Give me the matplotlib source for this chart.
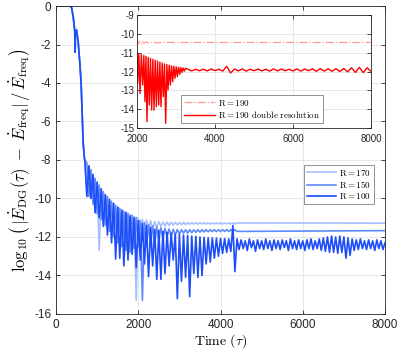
import numpy as np
import matplotlib
matplotlib.use("Agg")
import matplotlib.pyplot as plt

plt.rcParams['font.family'] = ['Liberation Sans', 'DejaVu Sans']
plt.rcParams['mathtext.fontset'] = 'cm'
plt.rcParams['axes.unicode_minus'] = False

# ---- main plot data (time, log10 rel. error) ----
t_start = [0, 340, 380, 420, 455, 462, 466, 470, 500, 540, 580, 610, 635, 660, 690]
v_start = [0, 0, -0.1, -0.6, -1.3, -2.4, -2.4, -1.3, -1.25, -1.9, -3.0, -4.0, -5.5, -7.1, -7.9]

t_band = [700, 750, 800, 850, 900, 950, 1000, 1050, 1100, 1150, 1200, 1250, 1300, 1350,
          1400, 1450, 1500, 1550, 1600, 1650, 1700, 1750, 1800, 1850, 1900, 1950, 2000,
          2050, 2100, 2150, 2200, 2250, 2300, 2350, 2400, 2450, 2500, 2550, 2600, 2650,
          2700, 2750, 2800, 2850, 2900, 2950, 3000, 3050, 3100, 3150, 3200, 3250, 3300,
          3350, 3400, 3450, 3500, 3550, 3600, 3650, 3700, 3750, 3800, 3850, 3900, 3950,
          4000, 4050, 4100, 4150, 4200, 4250, 4300, 4350, 4400]

# R=170: maxima at 700, 800, ... and minima at 750, 850, ...
peak170 = [-8.0, -8.3, -8.75, -9.15, -9.5, -9.8, -10.05, -10.25, -10.45, -10.6, -10.72,
           -10.82, -10.92, -11.0, -11.07, -11.12, -11.16, -11.2, -11.2, -11.22, -11.22,
           -11.23, -11.24, -11.24, -11.25, -11.25, -11.26, -11.26, -11.26, -11.27, -11.27,
           -11.27, -11.27, -11.27, -11.27, -11.27, -11.27, -11.27]
trough170 = [-9.6, -9.9, -10.3, -12.7, -10.9, -11.2, -11.4, -11.6, -11.75, -11.9,
             -12.0, -12.1, -15.3, -12.0, -11.85, -11.7, -11.6, -11.5, -11.45, -11.42,
             -11.4, -11.38, -11.37, -11.36, -11.35, -11.34, -11.33, -11.33, -11.32, -11.32,
             -11.32, -11.32, -11.32, -11.32, -11.32, -11.32, -11.32]

# R=150: minima at 800, 900, ... (first value at 700), maxima at 750, 850, ...
trough150 = [-8.0, -9.9, -10.3, -10.8, -11.1, -11.4, -11.7, -12.0, -12.3, -12.5,
             -12.7, -12.8, -12.6, -12.5, -15.3, -12.5, -12.4, -12.3, -12.2, -12.1,
             -12.0, -11.95, -11.9, -11.85, -11.8, -11.8, -11.78, -11.76, -11.75, -11.74,
             -11.73, -11.72, -11.72, -11.72, -11.71, -11.71, -11.71, -11.71]
peak150 = [-8.15, -8.5, -8.95, -9.3, -9.65, -9.9, -10.15, -10.35, -10.5, -10.65,
           -10.77, -10.87, -10.98, -11.15, -11.25, -11.35, -11.42, -11.48, -11.52, -11.55,
           -11.58, -11.6, -11.61, -11.62, -11.62, -11.62, -11.62, -11.62, -11.62, -11.62,
           -11.62, -11.62, -11.62, -11.62, -11.62, -11.62, -11.62]

# R=100: maxima at 700, 800, ... and minima at 750, 850, ...
peak100 = [-8.0, -8.3, -8.75, -9.15, -9.5, -9.8, -10.05, -10.25, -10.45, -10.6, -10.72,
           -10.9, -11.0, -11.15, -11.3, -11.4, -11.5, -11.6, -11.65, -11.7, -11.75,
           -11.8, -11.85, -11.88, -11.9, -11.92, -11.95, -11.97, -12.0, -12.02, -12.04,
           -12.05, -12.06, -12.08, -12.08, -12.1, -11.4, -12.1]
trough100 = [-9.9, -10.0, -10.75, -11.0, -11.45, -11.9, -12.3, -13.15, -13.1, -13.5,
             -13.2, -12.9, -13.6, -13.2, -13.4, -14.06, -13.5, -14.2, -14.2, -13.9,
             -13.5, -13.2, -15.2, -14.3, -14.1, -15.1, -13.9, -14.1, -14.0, -13.4,
             -13.3, -13.1, -13.0, -12.85, -12.8, -12.75, -13.8]

t_tail100 = [4450, 4500, 4550, 4600, 4650, 4700, 4750, 4800, 4850, 4900,
             4950, 5000, 5050, 5100, 5150, 5200, 5250, 5300, 5350, 5400,
             5450, 5500, 5550, 5600, 5650, 5700, 5750, 5800, 5850, 5900,
             5950, 6000, 6050, 6100, 6150, 6200, 6250, 6300, 6350, 6400,
             6450, 6500, 6550, 6600, 6650, 6700, 6750, 6800, 6850, 6900,
             6950, 7000, 7050, 7100, 7150, 7200, 7250, 7300, 7350, 7400,
             7450, 7500, 7550, 7600, 7650, 7700, 7750, 7800, 7850, 7900,
             7950, 8000]
v_tail100 = [-12.65, -12.15, -12.6, -12.2, -12.7, -12.1, -12.55, -12.2, -12.75, -12.15,
             -12.6, -12.2, -12.65, -12.1, -12.6, -12.2, -12.7, -12.15, -12.6, -12.2,
             -12.65, -12.15, -12.55, -12.2, -12.7, -12.1, -12.6, -12.2, -12.65, -12.15,
             -12.6, -12.2, -12.7, -12.15, -12.6, -12.1, -12.65, -12.2, -12.6, -12.1,
             -12.7, -12.05, -12.75, -12.0, -12.8, -11.95, -12.8, -12.0, -12.85, -11.95,
             -12.8, -12.0, -13.1, -12.05, -12.95, -12.1, -12.7, -12.15, -12.65, -12.1,
             -12.6, -12.2, -12.65, -12.15, -12.6, -12.2, -12.7, -12.15, -12.6, -12.2,
             -12.65, -12.3]
t_tail_flat = [8000]
v_tail170 = [-11.28]
v_tail150 = [-11.67]

# ---- inset data ----
t190 = [2000, 2030, 2060, 2100, 2140, 2180, 2230, 2300, 2400, 2500, 2700, 3000, 8000]
v190 = [-10.35, -10.55, -10.38, -10.52, -10.4, -10.5, -10.42, -10.5, -10.43, -10.48,
        -10.45, -10.46, -10.46]

t190d = [2000, 2017, 2047, 2077, 2111, 2145, 2175, 2205, 2230, 2256, 2286, 2316, 2346,
         2376, 2406, 2436, 2466, 2496, 2526, 2556, 2586, 2615, 2645, 2675, 2705, 2735,
         2765, 2795, 2825, 2855, 2885, 2915, 2945, 2974, 3004, 3034, 3064, 3094, 3124,
         3154, 3184, 3214, 3244,
         3300, 3400, 3500, 3600, 3700, 3800, 3900, 4000, 4100, 4200,
         4300, 4400, 4500, 4600, 4700, 4800, 4900, 5000, 5100, 5200,
         5300, 5400, 5500, 5600, 5700, 5800, 5900, 6000, 6100, 6200,
         6300, 6400, 6500, 6600, 6700, 6800, 6900, 7000, 7100, 7200,
         7300, 7400, 7500, 7600, 7700, 7800, 7900, 8000]
v190d = [-10.95, -12.63, -11.05, -13.16, -11.1, -12.72, -11.15, -13.6, -11.2, -14.67,
         -11.25, -13.78, -11.3, -14.05, -11.35, -14.05, -11.4, -13.87, -11.45, -13.78,
         -11.5, -13.87, -11.55, -13.34, -11.6, -14.75, -11.63, -12.98, -11.66, -12.72,
         -11.7, -12.54, -11.72, -12.36, -11.75, -12.27, -11.77, -12.15, -11.79, -12.05,
         -11.81, -11.98, -11.83,
         -11.87, -11.97, -11.88, -11.96, -11.88, -11.97, -11.87, -11.95, -11.88, -11.98,
         -11.72, -12.08, -11.87, -11.97, -11.86, -11.98, -11.88, -11.96, -11.87, -11.97,
         -11.88, -11.98, -11.86, -11.97, -11.87, -11.96, -11.88, -11.97, -11.86, -11.98,
         -11.87, -11.96, -11.86, -11.99, -11.85, -11.98, -11.86, -11.99, -11.85, -12.0,
         -11.84, -12.02, -11.8, -12.05, -11.78, -12.06, -11.8, -12.0]

c170 = '#a6bffd'
c150 = '#5f8afb'
c100 = '#1d4df8'


def zigzag(even, odd):
    # even -> t_band[0::2], odd -> t_band[1::2]
    v = np.empty(len(even) + len(odd))
    v[0::2] = even
    v[1::2] = odd
    return v


def series(band_vals, t_tail, v_tail):
    t = np.concatenate([t_start, t_band, t_tail])
    v = np.concatenate([v_start, band_vals, v_tail])
    return t, v


fig = plt.figure(figsize=(3.99, 3.53), dpi=100)
ax = fig.add_axes([0.1404, 0.1105, 0.8246, 0.8725])

t, v = series(zigzag(peak170, trough170), t_tail_flat, v_tail170)
ax.plot(t, v, color=c170, lw=1.2, label=r'$\mathrm{R{=}170}$')
t, v = series(zigzag(trough150, peak150), t_tail_flat, v_tail150)
ax.plot(t, v, color=c150, lw=1.2, label=r'$\mathrm{R{=}150}$')
t, v = series(zigzag(peak100, trough100), t_tail100, v_tail100)
ax.plot(t, v, color=c100, lw=1.2, label=r'$\mathrm{R{=}100}$')

ax.set_xlim(0, 8000)
ax.set_ylim(-16, 0)
ax.set_xticks([0, 2000, 4000, 6000, 8000])
ax.set_yticks(range(-16, 1, 2))
ax.grid(True, color='#e3e3e3', lw=0.6)
ax.set_axisbelow(True)
ax.tick_params(direction='in', top=True, right=True, length=3, width=0.6,
               labelsize=8.5, colors='#262626')
for s in ax.spines.values():
    s.set_color('#262626')
    s.set_linewidth(0.6)
ax.set_xlabel(r'$\mathrm{Time}\ (\tau)$', fontsize=10, labelpad=1)
ax.set_ylabel(r'$\log_{10}\left(\,|\dot{E}_{\mathrm{DG}}(\tau)\;-\;\dot{E}_{\mathrm{freq}}|\,/\,\dot{E}_{\mathrm{freq}}\right)$',
              fontsize=12, labelpad=1)
leg = ax.legend(loc='upper right', bbox_to_anchor=(0.967, 0.484), fontsize=6.5,
                fancybox=False, framealpha=1, edgecolor='#808080', handlelength=3.2,
                borderpad=0.3, labelspacing=0.15, handletextpad=0.4, borderaxespad=0)
leg.get_frame().set_linewidth(0.6)

# inset
axi = fig.add_axes([0.3434, 0.6374, 0.5865, 0.3201])
axi.plot(t190, v190, color='#ff9a9a', lw=0.9, ls='-.', label=r'$\mathrm{R{=}190}$')
axi.plot(t190d, v190d, color='#ff0000', lw=1.0, label=r'$\mathrm{R{=}190\ double\ resolution}$')
axi.set_xlim(2000, 8000)
axi.set_ylim(-15, -9)
axi.set_xticks([2000, 4000, 6000, 8000])
axi.set_yticks(range(-15, -8))
axi.grid(True, color='#e3e3e3', lw=0.6)
axi.set_axisbelow(True)
axi.tick_params(direction='in', top=True, right=True, length=3, width=0.6,
                labelsize=7, colors='#262626', pad=2)
axi.tick_params(axis='x', pad=4)
for s in axi.spines.values():
    s.set_color('#262626')
    s.set_linewidth(0.6)
legi = axi.legend(loc='lower left', bbox_to_anchor=(0.19, 0.044), fontsize=6.5,
                  fancybox=False, framealpha=1, edgecolor='#808080', handlelength=3.4,
                  borderpad=0.3, labelspacing=0.2, handletextpad=0.4, borderaxespad=0)
legi.get_frame().set_linewidth(0.6)

fig.savefig('out.png', dpi=100)
